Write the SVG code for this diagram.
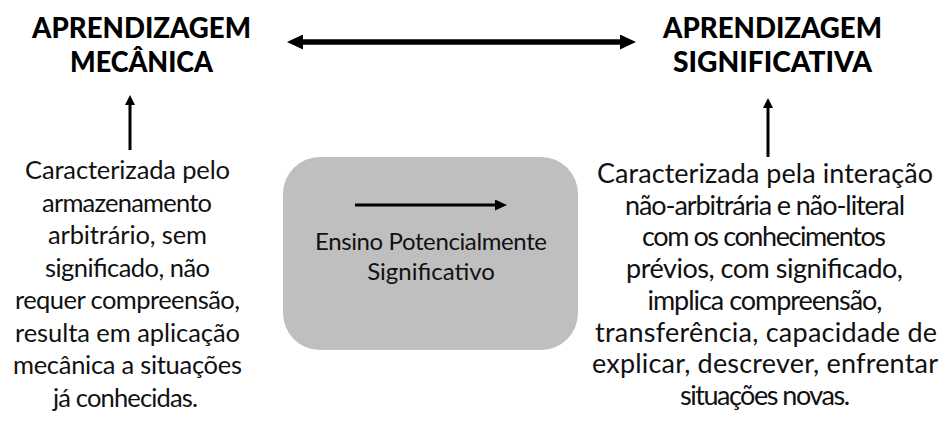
<svg xmlns="http://www.w3.org/2000/svg" width="942" height="431" viewBox="0 0 942 431">
<style>
.title{font-family:Lato,"Liberation Sans",sans-serif;font-weight:900;font-size:28.5px;fill:#000;text-anchor:middle}
.body{font-family:Lato,"Liberation Sans",sans-serif;font-size:25.5px;fill:#111;text-anchor:middle}
.bodyR{font-family:Lato,"Liberation Sans",sans-serif;font-size:27px;fill:#111;text-anchor:middle}
.inner{font-family:Lato,"Liberation Sans",sans-serif;font-size:24px;fill:#111;text-anchor:middle}
.box{fill:#bfbfbf}
.conn{stroke:#000;fill:none}
</style>
<defs>
<marker id="hBig" markerUnits="userSpaceOnUse" viewBox="0 0 16 15" markerWidth="16" markerHeight="15" refX="6" refY="7.5" orient="auto-start-reverse"><path d="M0,0 L16,7.5 L0,15 z" fill="#000"/></marker>
<marker id="hSm" markerUnits="userSpaceOnUse" viewBox="0 0 10 10" markerWidth="10" markerHeight="10" refX="4" refY="5" orient="auto"><path d="M0,0 L10,5 L0,10 z" fill="#000"/></marker>
<marker id="hMid" markerUnits="userSpaceOnUse" viewBox="0 0 12 11" markerWidth="12" markerHeight="11" refX="5" refY="5.5" orient="auto"><path d="M0,0 L12,5.5 L0,11 z" fill="#000"/></marker>
</defs>
<rect width="942" height="431" fill="#fff"/>
<g id="mecanica">
<text class="title" x="141.5" y="38" textLength="219" lengthAdjust="spacingAndGlyphs">APRENDIZAGEM</text>
<text class="title" x="141.5" y="72" textLength="143" lengthAdjust="spacingAndGlyphs">MECÂNICA</text>
</g>
<g id="significativa">
<text class="title" x="772.5" y="38" textLength="219" lengthAdjust="spacingAndGlyphs">APRENDIZAGEM</text>
<text class="title" x="772.5" y="72" textLength="199" lengthAdjust="spacingAndGlyphs">SIGNIFICATIVA</text>
</g>
<g id="desc-mecanica">
<text class="body" x="127.5" y="179" textLength="205" lengthAdjust="spacing">Caracterizada pelo</text>
<text class="body" x="127" y="211.5" textLength="170" lengthAdjust="spacing">armazenamento</text>
<text class="body" x="127.5" y="244" textLength="159" lengthAdjust="spacing">arbitrário, sem</text>
<text class="body" x="127.5" y="276.5" textLength="165" lengthAdjust="spacing">significado, não</text>
<text class="body" x="127.5" y="309" textLength="225" lengthAdjust="spacing">requer compreensão,</text>
<text class="body" x="127.5" y="341.5" textLength="225" lengthAdjust="spacing">resulta em aplicação</text>
<text class="body" x="127.5" y="374" textLength="229" lengthAdjust="spacing">mecânica a situações</text>
<text class="body" x="125.5" y="406.5" textLength="145" lengthAdjust="spacing">já conhecidas.</text>
</g>
<g id="desc-significativa">
<text class="bodyR" x="765" y="183" textLength="336" lengthAdjust="spacing">Caracterizada pela interação</text>
<text class="bodyR" x="765" y="214.7" textLength="280" lengthAdjust="spacing">não-arbitrária e não-literal</text>
<text class="bodyR" x="764" y="246.4" textLength="244" lengthAdjust="spacing">com os conhecimentos</text>
<text class="bodyR" x="764.5" y="278.1" textLength="277" lengthAdjust="spacing">prévios, com significado,</text>
<text class="bodyR" x="765" y="309.8" textLength="235" lengthAdjust="spacing">implica compreensão,</text>
<text class="bodyR" x="766" y="341.5" textLength="342" lengthAdjust="spacing">transferência, capacidade de</text>
<text class="bodyR" x="765" y="373.2" textLength="346" lengthAdjust="spacing">explicar, descrever, enfrentar</text>
<text class="bodyR" x="765" y="404.9" textLength="170" lengthAdjust="spacing">situações novas.</text>
</g>
<g id="ensino">
<rect class="box" x="283" y="157" width="295" height="193" rx="37" ry="37"/>
<text class="inner" x="431" y="250" textLength="232" lengthAdjust="spacing">Ensino Potencialmente</text>
<text class="inner" x="431" y="280">Significativo</text>
</g>
<g id="connectors">
<line class="conn" x1="297" y1="42" x2="626" y2="42" stroke-width="5.5" marker-start="url(#hBig)" marker-end="url(#hBig)"/>
<line class="conn" x1="130" y1="150" x2="130" y2="101" stroke-width="3" marker-end="url(#hSm)"/>
<line class="conn" x1="768" y1="157" x2="768" y2="104" stroke-width="3" marker-end="url(#hSm)"/>
<line class="conn" x1="355" y1="205" x2="500" y2="205" stroke-width="3" marker-end="url(#hMid)"/>
</g>
</svg>
